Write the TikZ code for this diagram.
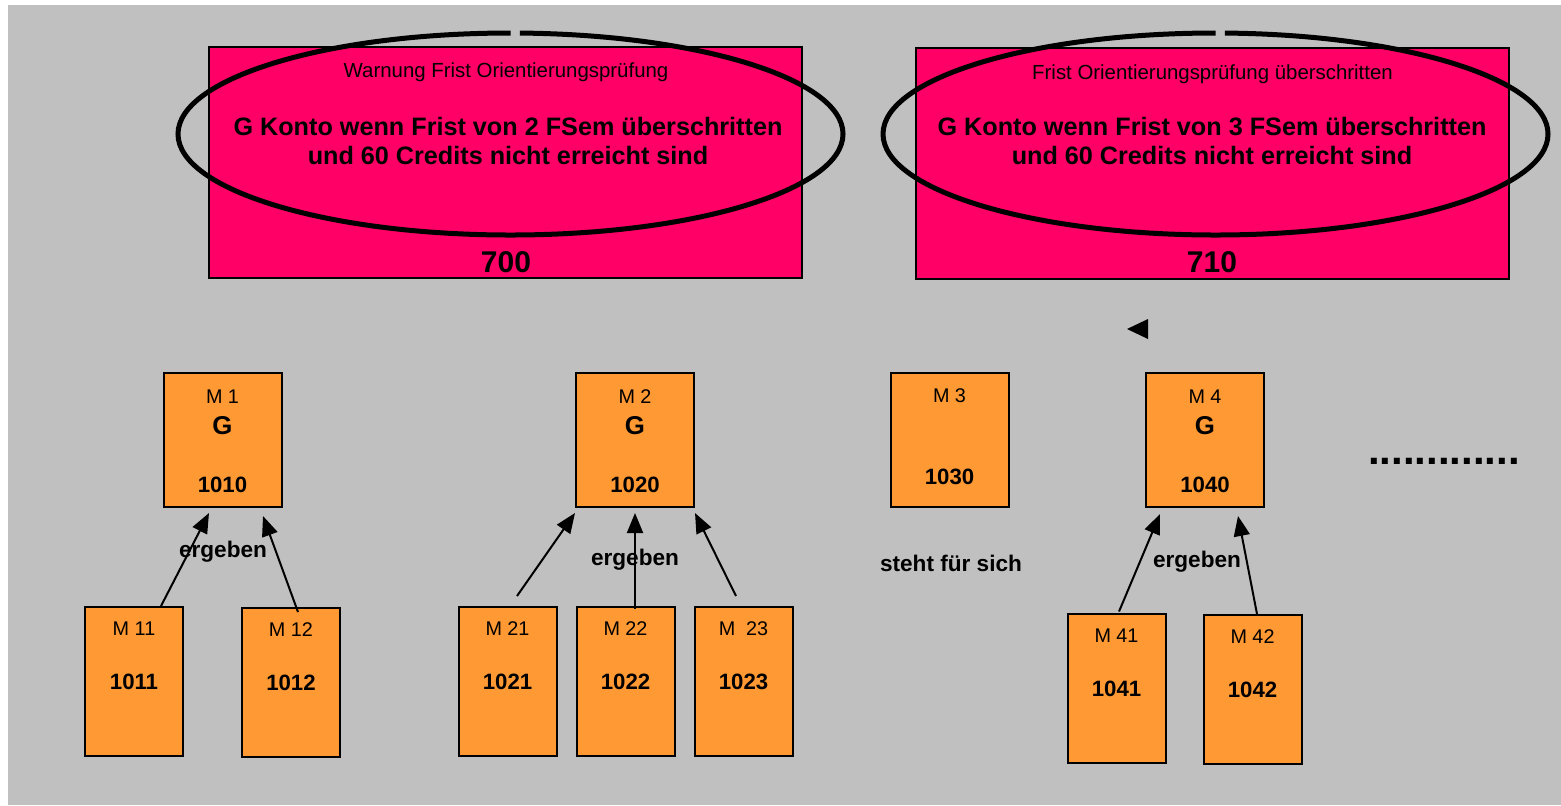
\documentclass[tikz,border=0pt]{standalone}
\usepackage{fontspec}
\setmainfont{Liberation Sans}
\setsansfont{Liberation Sans}
\usetikzlibrary{arrows.meta}

\definecolor{hgrau}{HTML}{C0C0C0}
\definecolor{fristrot}{HTML}{FF0066}
\definecolor{modulorange}{HTML}{FF9933}

\tikzset{
  fristbox/.style={draw=black, line width=0.75pt, fill=fristrot, minimum width=296.5pt, minimum height=115.5pt, inner sep=0pt},
  kreis/.style={line width=2.5pt},
  modul/.style={draw=black, line width=1pt, fill=modulorange, minimum width=59pt, minimum height=67pt, inner sep=0pt},
  teilmodul/.style={modul, minimum width=49pt, minimum height=74.5pt},
  pfeil/.style={line width=1pt, -{Triangle[length=10pt,width=8pt]}},
  klein/.style={font=\fontsize{9.9}{11}\selectfont},
  nummer/.style={font=\bfseries\fontsize{11.1}{13}\selectfont},
  grossG/.style={font=\bfseries\fontsize{12.9}{15}\selectfont},
  beschr/.style={font=\bfseries\fontsize{11.3}{13.5}\selectfont},
  fristklein/.style={font=\fontsize{10.2}{12}\selectfont},
  fristtext/.style={font=\bfseries\fontsize{12.6}{14.5}\selectfont, align=center},
  fristnr/.style={font=\bfseries\fontsize{15}{18}\selectfont},
}

\begin{document}
\begin{tikzpicture}[x=0.5pt, y=-0.5pt, font=\sffamily]
        \useasboundingbox (0,0) rectangle (1561,805);
        % hintergrund
        \fill[hgrau] (8,5) rectangle (1561,805);

        % fristen
        \node[fristbox] (f700) at (505.5,162.5) {};
        \node[fristbox] (f710) at (1212.5,163.5) {};
        \draw[kreis] (510.5,33) arc[start angle=90, end angle=448.4, x radius=166.25pt, y radius=50.5pt];
        \draw[kreis] (1215.5,33) arc[start angle=90, end angle=448.4, x radius=166.25pt, y radius=50.5pt];

        \node[fristklein] (f700-k) at (506,72) {Warnung Frist Orientierungspr\"ufung};
        \node[fristtext] (f700-t) at (508,140.5) {G Konto wenn Frist von 2 FSem \"uberschritten\\und 60 Credits nicht erreicht sind};
        \node[fristnr] (f700-n) at (506,262) {700};
        \node[fristklein] (f710-k) at (1212.5,74) {Frist Orientierungspr\"ufung \"uberschritten};
        \node[fristtext] (f710-t) at (1212,140.5) {G Konto wenn Frist von 3 FSem \"uberschritten\\und 60 Credits nicht erreicht sind};
        \node[fristnr] (f710-n) at (1212,262) {710};

        \fill (1127,329) -- (1148,319) -- (1148,339) -- cycle;

        % module
        \foreach \nm/\x/\lab/\num in {m1/222.5/M 1/1010, m2/635/M 2/1020, m4/1205/M 4/1040} {
          \node[modul] (\nm) at (\x,440) {};
          \node[klein] (\nm-l) at (\x,397) {\lab};
          \node[grossG] (\nm-g) at (\x,426) {G};
          \node[nummer] (\nm-n) at (\x,485) {\num};
        }
        \node[modul] (m3) at (949.5,440) {};
        \node[klein] (m3-l) at (949.5,396) {M 3};
        \node[nummer] (m3-n) at (949.5,477) {1030};

        \node[font=\bfseries\fontsize{21}{25}\selectfont] (punkte) at (1444,461) {.............};

        % teilmodule
        \foreach \nm/\x/\y/\lab/\num in {m11/134/681.5/M 11/1011, m12/291/682.5/M 12/1012,
            m21/507.5/681.5/M 21/1021, m22/625.5/681.5/M 22/1022, m23/743.5/681.5/M\ \ 23/1023,
            m41/1116.5/688/M 41/1041, m42/1252.5/689.5/M 42/1042} {
          \node[teilmodul] (\nm) at (\x,\y) {};
          \node[klein] (\nm-l) at (\x,{\y-52.5}) {\lab};
          \node[nummer] (\nm-n) at (\x,{\y+0.5}) {\num};
        }

        % pfeile
        \draw[pfeil] ([xshift=13.5pt]m11.north) -- ([xshift=-6.75pt,yshift=-2.5pt]m1.south);
        \draw[pfeil] ([xshift=3.5pt,yshift=-2.5pt]m12.north) -- ([xshift=20.25pt,yshift=-4pt]m1.south);
        \draw[pfeil] ([xshift=4.75pt,yshift=5pt]m21.north) -- ([yshift=-2.5pt]m2.south west);
        \draw[pfeil] ([xshift=4.75pt,yshift=-1.5pt]m22.north) -- ([yshift=-2.5pt]m2.south);
        \draw[pfeil] ([xshift=-3.75pt,yshift=5pt]m23.north) -- ([yshift=-2.5pt]m2.south east);
        \draw[pfeil] ([xshift=1.25pt,yshift=0.5pt]m41.north) -- ([xshift=-22.5pt,yshift=-3pt]m4.south);
        \draw[pfeil] ([xshift=2.25pt]m42.north) -- ([xshift=16.5pt,yshift=-4pt]m4.south);

        \node[beschr] (erg1) at (223,552) {ergeben};
        \node[beschr] (erg2) at (635,560) {ergeben};
        \node[beschr] (erg4) at (1197,562) {ergeben};
        \node[beschr] (steht) at (951,563) {steht f\"ur sich};

\end{tikzpicture}
\end{document}
